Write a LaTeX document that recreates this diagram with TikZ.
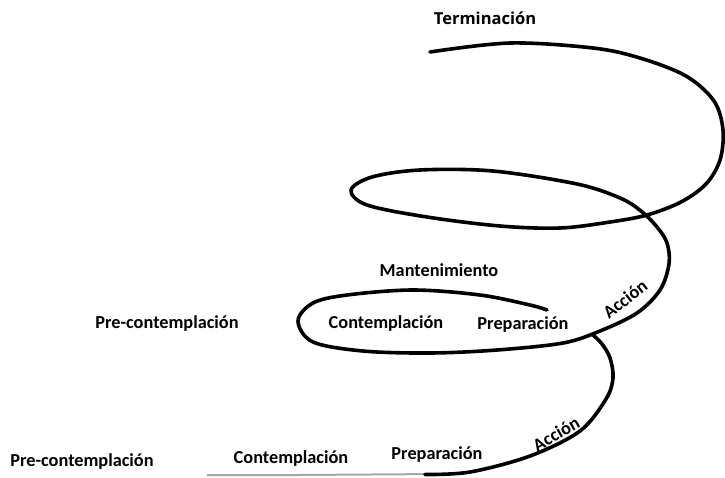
\documentclass[tikz,border=0pt]{standalone}
\usepackage{fontspec}
\setmainfont{Carlito}
\newfontfamily\termfont{Open Sans}
\begin{document}
\begin{tikzpicture}[x=1pt,y=-1pt,
  coil/.style={line width=3.6pt,line cap=round,line join=round,black},
  faint/.style={line width=2pt,black!35},
  lbl/.style={font=\bfseries\fontsize{18.3}{21}\selectfont,inner sep=0pt}]
\useasboundingbox (0,0) rectangle (725,477);
% faint start of the coil
\draw[faint] (207,475) -- (300,475) -- (440,474);
% bottom loop rising to the middle loop
\draw[coil] plot[smooth,tension=0.55] coordinates {(425,474.5) (470,472) (530,456) (580,431) (606,399) (613,378) (610,358) (602,344) (593,335)};
% middle loop, rising arc, upper loop
\draw[coil] plot[smooth,tension=0.55] coordinates {
 (547,310) (530,305) (480,295) (413,290) (347,295) (313,303) (298,321)
 (313,342) (363,351) (430,353) (497,350) (563,343) (600,331) (637,313)
 (660,290) (669,264) (667,243) (657,227) (641,211) (620,198) (577,184)
 (493,171) (420,170) (372,177) (351,190) (367,205) (427,217) (500,226)
 (560,228) (610,222) (647,215) (681,202) (706,184) (720,160) (723,130)
 (714,101) (686,76) (640,58) (593,48) (510,43) (430,52)};
% labels
\node[lbl,font=\termfont\bfseries\fontsize{16.5}{20}\selectfont] (term) at (485,18) {Terminación};
\node[lbl] (mant) at (439,270) {Mantenimiento};
\node[lbl] (pre1) at (167,324) {Pre-contemplación};
\node[lbl] (con1) at (386,324) {Contemplación};
\node[lbl] (prep1) at (523,325) {Preparación};
\node[lbl,rotate=38] (acc1) at (625,299) {Acción};
\node[lbl] (pre2) at (82,462) {Pre-contemplación};
\node[lbl] (con2) at (291,459) {Contemplación};
\node[lbl] (prep2) at (437,455) {Preparación};
\node[lbl,rotate=30] (acc2) at (556,434) {Acción};
\end{tikzpicture}
\end{document}
